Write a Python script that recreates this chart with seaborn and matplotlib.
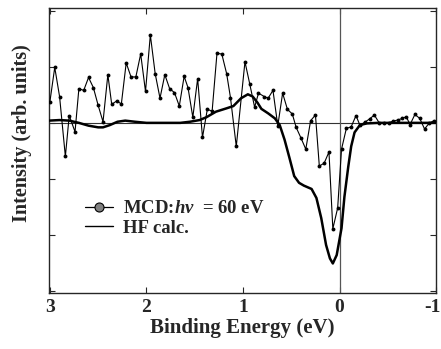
import numpy as np
import pandas as pd
import matplotlib
matplotlib.use("Agg")
import matplotlib.pyplot as plt
import matplotlib.transforms as mtransforms
from matplotlib.lines import Line2D
import seaborn as sns

# MCD data (binding energy in eV, intensity in arb. units)
mcd_energy = [3.00, 2.95, 2.90, 2.84, 2.80, 2.74, 2.70, 2.65, 2.60, 2.55,
              2.50, 2.45, 2.40, 2.36, 2.31, 2.26, 2.21, 2.16, 2.11, 2.06,
              2.01, 1.96, 1.91, 1.86, 1.81, 1.76, 1.71, 1.66, 1.61, 1.57,
              1.52, 1.47, 1.42, 1.37, 1.32, 1.27, 1.22, 1.17, 1.13, 1.07,
              0.98, 0.93, 0.88, 0.84, 0.78, 0.74, 0.69, 0.64, 0.59, 0.54,
              0.49, 0.45, 0.40, 0.35, 0.30, 0.25, 0.21, 0.16, 0.11, 0.07,
              0.02, -0.02, -0.07, -0.12, -0.17, -0.21, -0.26, -0.31, -0.36, -0.41,
              -0.46, -0.51, -0.55, -0.60, -0.65, -0.69, -0.73, -0.78, -0.83, -0.88,
              -0.93, -0.98]
mcd_int = [0.38, 0.99, 0.47, -0.60, 0.13, -0.16, 0.61, 0.58, 0.81, 0.63,
           0.31, 0.02, 0.86, 0.33, 0.39, 0.34, 1.07, 0.82, 0.82, 1.23,
           0.56, 1.57, 0.88, 0.44, 0.86, 0.61, 0.54, 0.30, 0.83, 0.63,
           0.10, 0.79, -0.26, 0.24, 0.21, 1.24, 1.23, 0.88, 0.45, -0.42,
           1.09, 0.69, 0.28, 0.53, 0.47, 0.44, 0.58, -0.05, 0.53, 0.24,
           0.16, -0.08, -0.27, -0.47, 0.04, 0.14, -0.77, -0.72, -0.52, -1.89,
           -1.52, -0.47, -0.10, -0.07, 0.13, -0.04, 0.01, 0.07, 0.14, 0.00,
           -0.01, 0.00, 0.03, 0.05, 0.08, 0.11, -0.03, 0.15, 0.08, -0.11,
           0.00, 0.04]

# HF calculation
hf_energy = [3.01, 2.90, 2.80, 2.70, 2.60, 2.50, 2.45, 2.38, 2.30, 2.22,
             2.12, 2.00, 1.80, 1.65, 1.55, 1.45, 1.38, 1.28, 1.17, 1.10,
             1.02, 0.95, 0.90, 0.85, 0.81, 0.74, 0.67, 0.62, 0.57, 0.52,
             0.47, 0.42, 0.37, 0.29, 0.24, 0.19, 0.14, 0.10, 0.07, 0.03,
             -0.02, -0.05, -0.09, -0.12, -0.155, -0.21, -0.28, -0.40, -1.00]
hf_int = [0.04, 0.05, 0.04, 0.00, -0.05, -0.08, -0.08, -0.04, 0.02, 0.04,
          0.02, 0.00, 0.00, 0.00, 0.02, 0.05, 0.10, 0.20, 0.26, 0.30,
          0.44, 0.51, 0.47, 0.36, 0.25, 0.17, 0.08, -0.04, -0.30, -0.62,
          -0.95, -1.07, -1.12, -1.18, -1.34, -1.70, -2.18, -2.42, -2.51, -2.36,
          -1.88, -1.32, -0.78, -0.42, -0.17, -0.04, -0.01, 0.00, 0.00]

x_ticks = [3, 2, 1, 0, -1]

mcd = pd.DataFrame({"E": mcd_energy, "I": mcd_int})
hf = pd.DataFrame({"E": hf_energy, "I": hf_int})

sns.set_style("ticks")
plt.rcParams["font.family"] = ["Liberation Serif", "DejaVu Serif"]
plt.rcParams["font.weight"] = "bold"
plt.rcParams["mathtext.fontset"] = "custom"
plt.rcParams["mathtext.rm"] = "Liberation Serif:bold"
plt.rcParams["mathtext.it"] = "Liberation Serif:italic:bold"

fig, ax = plt.subplots(figsize=(4.41, 3.49), dpi=100)
fig.subplots_adjust(left=0.111, right=0.989, top=0.977, bottom=0.160)

ax.axhline(0, color="#333333", lw=0.8, zorder=1)
ax.axvline(0, color="#555555", lw=0.9, zorder=1)

sns.lineplot(data=hf, x="E", y="I", sort=False, color="black", lw=1.8, ax=ax, zorder=3)
sns.lineplot(data=mcd, x="E", y="I", sort=False, color="black", lw=0.8,
             marker="o", markersize=2.8, markeredgewidth=0, ax=ax, zorder=4)

ax.set_xlim(3.01, -1.0)
ax.set_ylim(-3.04, 2.05)
ax.set_xticks(x_ticks)
ax.set_xticklabels([str(t) for t in x_ticks], fontsize=14, fontweight="bold")
ax.set_yticks([-3, -2, -1, 0, 1, 2])
ax.set_yticklabels([])
ax.tick_params(direction="in", length=4, width=0.8, top=True, right=True, pad=4)
for s in ax.spines.values():
    s.set_linewidth(1.0)

# keep the "-1" label inside the figure
last = ax.get_xticklabels()[-1]
last.set_transform(last.get_transform() +
                   mtransforms.ScaledTranslation(-4 / 100, 0, fig.dpi_scale_trans))

ax.set_xlabel("Binding Energy (eV)", fontsize=15, fontweight="bold", labelpad=2)
ax.set_ylabel("Intensity (arb. units)", fontsize=14.5, fontweight="bold")
ax.yaxis.set_label_coords(-0.045, 0.56)

handles = [
    Line2D([], [], color="black", lw=0.9, marker="o", markersize=6.5,
           markerfacecolor="#808080", markeredgecolor="black", markeredgewidth=0.8),
    Line2D([], [], color="black", lw=1.0),
]
ax.legend(handles, ["MCD:$h\\nu$  = 60 eV", "HF calc."], loc="upper left",
          bbox_to_anchor=(0.05, 0.385), frameon=False,
          handlelength=1.5, handletextpad=0.5, labelspacing=0.12,
          prop={"weight": "bold", "size": 13.5})

fig.savefig("out.png", dpi=100)
